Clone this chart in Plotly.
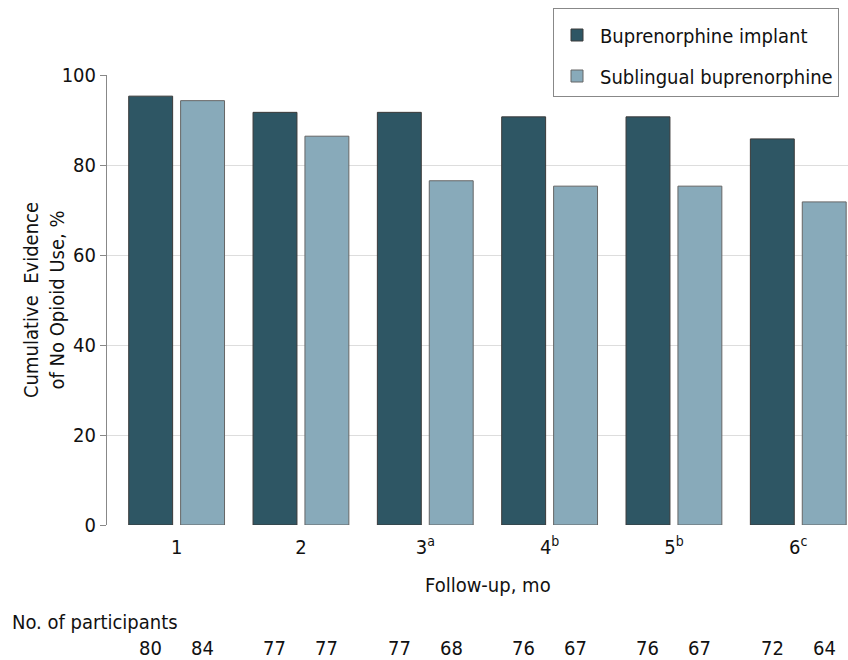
import plotly.graph_objects as go

months = [0, 1, 2, 3, 4, 5]
month_labels = ["1", "2", "3<sup>a</sup>", "4<sup>b</sup>", "5<sup>b</sup>", "6<sup>c</sup>"]
implant = [95.3, 91.7, 91.7, 90.7, 90.7, 85.8]
sublingual = [94.3, 86.4, 76.5, 75.3, 75.3, 71.8]
n_implant = [80, 77, 77, 76, 76, 72]
n_sublingual = [84, 77, 68, 67, 67, 64]

FONT = "DejaVu Sans Condensed, Liberation Sans Narrow, Roboto Condensed, Open Sans, sans-serif"
FS = 20
DARK = "#2E5664"
LIGHT = "#88AABA"

fig = go.Figure()
fig.add_trace(go.Bar(x=months, y=implant, name="Buprenorphine implant",
                     marker=dict(color=DARK, line=dict(color="#3a3a3a", width=1)),
                     legendgroup="a"))
fig.add_trace(go.Bar(x=months, y=sublingual, name="Sublingual buprenorphine",
                     marker=dict(color=LIGHT, line=dict(color="#666666", width=1)),
                     legendgroup="b"))

PL, PR, PT, PB = 107, 848, 75, 525

def px_x(x):
    return (x - PL) / (PR - PL)

def px_y(y):
    return (PB - y) / (PB - PT)

ann = [dict(text="Follow-up, mo", x=px_x(488), xref="paper", y=px_y(585), yref="paper",
            showarrow=False, xanchor="center", yanchor="middle", font=dict(size=FS))]
for i in months:
    ann.append(dict(text=str(n_implant[i]), x=i, xref="x", xshift=-26, y=px_y(648), yref="paper",
                    showarrow=False, yanchor="middle", font=dict(size=FS)))
    ann.append(dict(text=str(n_sublingual[i]), x=i, xref="x", xshift=26, y=px_y(648), yref="paper",
                    showarrow=False, yanchor="middle", font=dict(size=FS)))
ann.append(dict(text="No. of participants", x=px_x(10), xref="paper", xanchor="left",
                y=px_y(622), yref="paper", yanchor="middle", showarrow=False, font=dict(size=FS)))
ann.append(dict(text="Cumulative  Evidence<br>of No Opioid Use, %", textangle=-90,
                x=px_x(44), xref="paper", xanchor="center", y=0.5, yref="paper", yanchor="middle",
                showarrow=False, font=dict(size=FS)))

fig.update_layout(
    width=848, height=660,
    margin=dict(l=PL, r=848 - PR, t=PT, b=660 - PB, autoexpand=False),
    paper_bgcolor="white", plot_bgcolor="white",
    font=dict(family=FONT, size=FS, color="#111111"),
    barmode="group", bargap=0.165, bargroupgap=0.154,
    showlegend=True,
    legend=dict(x=px_x(553), y=px_y(8), xanchor="left", yanchor="top",
                bordercolor="#888888", borderwidth=1, font=dict(size=FS),
                tracegroupgap=12, traceorder="grouped", bgcolor="white", itemwidth=36,
                entrywidth=240, entrywidthmode="pixels",
                title=dict(text=" ", font=dict(size=5))),
    annotations=ann,
    xaxis=dict(tickmode="array", tickvals=months, ticktext=month_labels, range=[-0.56, 5.4],
               showgrid=False, showline=False, ticks="", zeroline=False, tickfont=dict(size=FS),
               automargin=False, ticklabelstandoff=8),
    yaxis=dict(range=[0, 100], tickvals=[0, 20, 40, 60, 80, 100], showgrid=True, gridcolor="#dddddd",
               showline=True, linecolor="#888888", linewidth=1, ticks="outside", ticklen=6,
               tickcolor="#888888", zeroline=False, tickfont=dict(size=FS), automargin=False),
)

fig.write_html("out.html", config={"displayModeBar": False},
               post_script="document.body.style.margin='0';")
